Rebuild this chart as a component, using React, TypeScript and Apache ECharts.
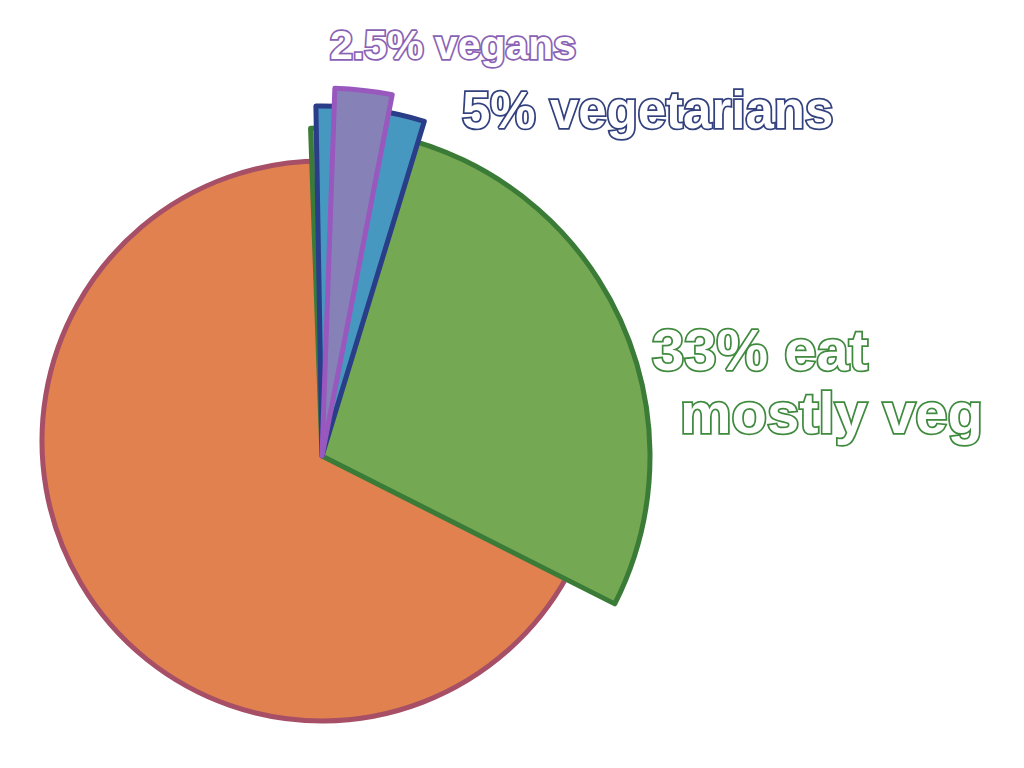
import React, { useEffect, useRef } from "react";
import * as echarts from "echarts";

// Data
const restLabel = "everyone else";
const restShare = 67;
const groupNames = ["eat mostly veg", "vegetarians", "vegans"];
const groupShares = [33, 5, 2.5];

// Styles
const fills = ["#75A853", "#4798C1", "#8682B8"];
const borders = ["#3B7B38", "#2A3D88", "#9858BE"];
const textColors = ["#3F8A3E", "#33417E", "#8A62B4"];
const restFill = "#E1814F";
const restBorder = "#A64F67";

export default function App() {
  const ref = useRef<HTMLDivElement>(null);

  useEffect(() => {
    if (!ref.current) return;
    const chart = echarts.init(ref.current, undefined, { renderer: "svg" });

    const sliceCenter = [322, 456];
    const radii = [328, 350, 368];
    const starts = [92, 91, 88];

    const groupSeries = groupNames.map((name, i) => ({
      type: "pie",
      name,
      center: sliceCenter,
      radius: [0, radii[i]],
      startAngle: starts[i],
      clockwise: true,
      silent: true,
      z: 2 + i,
      label: { show: false },
      labelLine: { show: false },
      emphasis: { disabled: true },
      data: [
        {
          name,
          value: groupShares[i],
          itemStyle: { color: fills[i], borderColor: borders[i], borderWidth: 5, borderJoin: "round" },
        },
        {
          name: "rest",
          value: 100 - groupShares[i],
          itemStyle: { color: "transparent", borderWidth: 0 },
        },
      ],
    }));

    const restSeries = {
      type: "pie",
      name: restLabel,
      center: [322, 441],
      radius: [0, 280],
      startAngle: 90,
      clockwise: true,
      silent: true,
      z: 1,
      label: { show: false },
      labelLine: { show: false },
      emphasis: { disabled: true },
      data: [
        { name: "veg", value: 100 - restShare, itemStyle: { color: "transparent", borderWidth: 0 } },
        { name: restLabel, value: restShare, itemStyle: { color: restFill, borderColor: restBorder, borderWidth: 5 } },
      ],
    };

    const textStyle = (color: string, size: number) => ({
      fill: "#ffffff",
      stroke: color,
      lineWidth: 3.5,
      font: `bold ${size}px "Liberation Sans", Arial, sans-serif`,
      verticalAlign: "middle",
      align: "left",
    });

    const graphics = [
      {
        type: "text",
        x: 652,
        y: 349,
        z: 10,
        style: { ...textStyle(textColors[0], 58), text: `${groupShares[0]}% eat` },
      },
      {
        type: "text",
        x: 680,
        y: 412,
        z: 10,
        style: { ...textStyle(textColors[0], 58), text: "mostly veg" },
      },
      {
        type: "text",
        x: 462,
        y: 110,
        z: 10,
        style: { ...textStyle(textColors[1], 51), text: `${groupShares[1]}% ${groupNames[1]}` },
      },
      {
        type: "text",
        x: 330,
        y: 45,
        z: 10,
        style: { ...textStyle(textColors[2], 41), text: `${groupShares[2]}% ${groupNames[2]}` },
      },
    ];

    chart.setOption({
      animation: false,
      backgroundColor: "#ffffff",
      series: [restSeries, ...groupSeries],
      graphic: graphics,
    });

    return () => chart.dispose();
  }, []);

  return (
    <div
      ref={ref}
      style={{ position: "fixed", left: 0, top: 0, width: 1024, height: 768 }}
    />
  );
}
